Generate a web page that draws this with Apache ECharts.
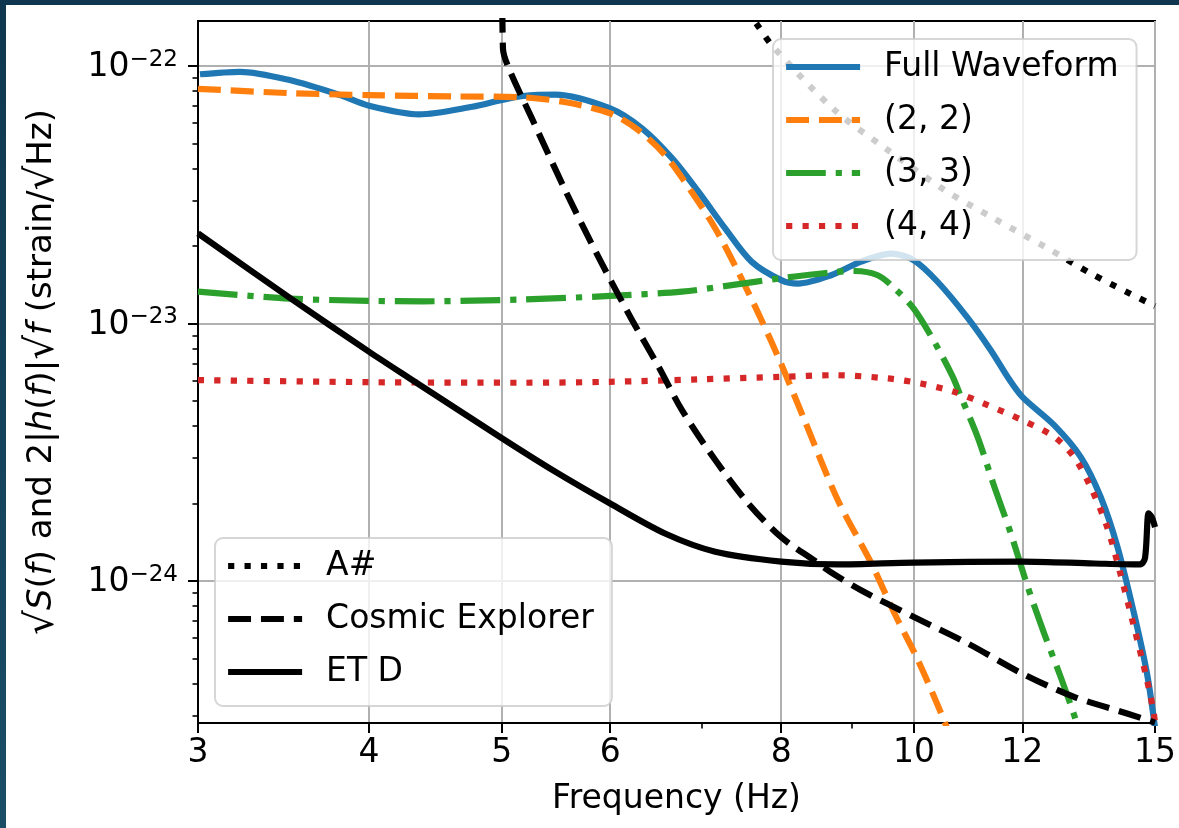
<!DOCTYPE html>
<html>
<head>
<meta charset="utf-8">
<script src="https://cdn.jsdelivr.net/npm/echarts@6/dist/echarts.min.js"></script>
<style>
html, body { margin: 0; padding: 0; width: 1179px; height: 828px; overflow: hidden;
  background: linear-gradient(to bottom, #0f3850, #1a4d66); }
#chart { position: absolute; left: 6px; top: 5px; width: 1173px; height: 823px; background: #ffffff; }
</style>
</head>
<body>
<div id="chart"></div>
<script>
// ---------------- data (frequency in Hz, amplitude in strain/sqrt(Hz)) ----------------
const fullFreq = [3.01, 3.22, 3.5, 3.81, 4.0, 4.35, 4.76, 5.0, 5.18, 5.47, 6.0, 6.33, 6.66, 6.96, 7.28, 7.61, 8.0, 8.23, 8.7, 9.15, 9.62, 10.0, 10.41, 10.95, 11.38, 11.71, 12.0, 12.66, 13.24, 13.69, 14.08, 14.48, 14.8, 15.0];
const fullAmp  = [9.29e-23, 9.50e-23, 8.82e-23, 7.71e-23, 7.01e-23, 6.49e-23, 6.95e-23, 7.38e-23, 7.65e-23, 7.75e-23, 6.85e-23, 5.73e-23, 4.38e-23, 3.25e-23, 2.34e-23, 1.74e-23, 1.475e-23, 1.43e-23, 1.54e-23, 1.74e-23, 1.87e-23, 1.76e-23, 1.45e-23, 1.05e-23, 7.88e-24, 6.19e-24, 5.19e-24, 4.03e-24, 3.03e-24, 2.12e-24, 1.36e-24, 7.48e-25, 4.37e-25, 2.7e-25];

const m22Freq = [3.0, 3.5, 4.0, 4.63, 5.18, 5.57, 6.0, 6.29, 6.58, 6.88, 7.16, 7.44, 7.74, 8.0, 8.32, 8.8, 9.31, 9.68, 10.07, 10.47, 10.62];
const m22Amp  = [8.16e-23, 7.85e-23, 7.71e-23, 7.62e-23, 7.56e-23, 7.23e-23, 6.55e-23, 5.64e-23, 4.51e-23, 3.25e-23, 2.34e-23, 1.59e-23, 1.03e-23, 6.96e-24, 4.21e-24, 2.06e-24, 1.17e-24, 7.48e-25, 4.92e-25, 3.06e-25, 2.52e-25];

const m33Freq = [3.0, 3.5, 4.0, 4.38, 5.18, 6.0, 6.77, 7.36, 8.0, 8.7, 9.05, 9.41, 9.68, 10.0, 10.35, 10.67, 10.82, 11.13, 11.45, 11.77, 12.11, 12.45, 12.8, 13.13, 13.21];
const m33Amp  = [1.33e-23, 1.25e-23, 1.225e-23, 1.22e-23, 1.24e-23, 1.28e-23, 1.33e-23, 1.41e-23, 1.50e-23, 1.58e-23, 1.60e-23, 1.54e-23, 1.37e-23, 1.14e-23, 8.49e-24, 6.25e-24, 5.22e-24, 3.63e-24, 2.32e-24, 1.53e-24, 9.49e-25, 6.25e-25, 4.24e-25, 2.88e-25, 2.52e-25];

const m44Freq = [3.0, 4.0, 5.18, 6.0, 6.96, 8.0, 8.75, 9.57, 10.12, 10.7, 11.32, 12.0, 12.66, 13.09, 13.46, 13.84, 14.15, 14.48, 14.8, 14.97, 15.0];
const m44Amp  = [6.03e-24, 5.92e-24, 5.89e-24, 5.94e-24, 6.07e-24, 6.21e-24, 6.30e-24, 6.12e-24, 5.85e-24, 5.43e-24, 4.82e-24, 4.21e-24, 3.63e-24, 3.03e-24, 2.32e-24, 1.62e-24, 1.07e-24, 6.63e-25, 4.12e-25, 3.06e-25, 2.8e-25];

const aSharpFreq = [7.55, 7.66, 7.89, 8.75, 9.57, 10.53, 11.38, 12.52, 13.54, 15.0];
const aSharpAmp  = [1.65e-22, 1.48e-22, 1.19e-22, 6.75e-23, 4.72e-23, 3.30e-23, 2.60e-23, 1.96e-23, 1.54e-23, 1.17e-23];

const ceFreq = [5.0, 5.01, 5.06, 5.26, 5.57, 5.89, 6.22, 6.51, 6.77, 7.16, 7.57, 8.0, 8.46, 8.7, 9.15, 10.0, 10.95, 12.0, 13.09, 14.31, 15.0];
const ceAmp  = [4.0e-22, 1.17e-22, 9.80e-23, 6.26e-23, 3.25e-23, 1.79e-23, 1.04e-23, 6.79e-24, 4.61e-24, 2.95e-24, 2.00e-24, 1.48e-24, 1.20e-24, 1.08e-24, 9.21e-25, 7.25e-25, 5.72e-25, 4.37e-25, 3.55e-25, 3.06e-25, 2.82e-25];

const etdFreq = [3.0, 3.5, 4.0, 4.28, 5.0, 5.47, 6.0, 6.58, 7.16, 8.0, 8.8, 10.0, 12.0, 13.54, 14.63, 14.75, 14.84, 14.92, 15.0];
const etdAmp  = [2.24e-23, 1.26e-23, 7.77e-24, 6.14e-24, 3.59e-24, 2.66e-24, 2.00e-24, 1.53e-24, 1.30e-24, 1.19e-24, 1.16e-24, 1.18e-24, 1.19e-24, 1.17e-24, 1.16e-24, 1.23e-24, 1.83e-24, 1.77e-24, 1.62e-24];

// axis ticks and ranges
const xMin = 3, xMax = 15;
const yMin = 2.81e-25, yMax = 1.496e-22;
const xTickLabels = [3, 4, 5, 6, 8, 10, 12, 15];
const xMinorTicks = [7, 9];
const yDecadeExponents = [-24, -23, -22];
const yMinorMantissas = [2, 3, 4, 5, 6, 7, 8, 9];

const waveformLegend = ['Full Waveform', '(2, 2)', '(3, 3)', '(4, 4)'];
const detectorLegend = ['A#', 'Cosmic Explorer', 'ET D'];

// ---------------- chart ----------------
const FONT = "'DejaVu Sans', sans-serif";
const LW = 6.2;
const DASHED = [3.7 * LW, 1.6 * LW];
const DASHDOT = [6.4 * LW, 1.6 * LW, 1 * LW, 1.6 * LW];
const DOTTED = [1 * LW, 1.65 * LW];

const lg = Math.log10;
const toPts = (fs, vs) => fs.map((f, i) => [lg(f), lg(vs[i])]);

const yMinorValues = [];
[-25, -24, -23, -22].forEach(e => yMinorMantissas.forEach(m => {
  const v = lg(m) + e;
  if (v > lg(yMin) && v < lg(yMax)) yMinorValues.push(v);
}));

function mkSeries(name, fs, vs, color, type) {
  return {
    type: 'line', name, data: toPts(fs, vs), symbol: 'none', smooth: 0.3,
    clip: true, silent: true, animation: false,
    lineStyle: { color, width: LW, type, join: 'round' },
    itemStyle: { color },
    emphasis: { disabled: true }
  };
}

const legendCommon = {
  orient: 'vertical', itemWidth: 74, itemHeight: 38, itemGap: 15,
  padding: [9, 18, 15, 10],
  backgroundColor: 'rgba(255,255,255,0.8)',
  borderColor: 'rgba(204,204,204,0.8)', borderWidth: 2, borderRadius: 8,
  selectedMode: false,
  textStyle: { fontSize: 33, fontFamily: FONT, color: '#000', lineHeight: 38, padding: [0, 0, 0, 19] },
  lineStyle: { width: LW },
  itemStyle: { color: 'rgba(0,0,0,0)', borderWidth: 0 }
};

const yName = '{r|√}{i|S}{n|(}{i|f}{n|) and 2|}{i|h}{n|(}{i|f}{n|)|}{r|√}{i|f}{n| (strain/}{r|√}{n|Hz)}';

const option = {
  animation: false,
  grid: { left: 192, top: 16, width: 960, height: 702, show: true, borderColor: '#000', borderWidth: 2, backgroundColor: 'transparent' },
  xAxis: [
    {
      type: 'value', min: lg(xMin), max: lg(xMax),
      name: 'Frequency (Hz)', nameLocation: 'middle', nameGap: 60,
      nameTextStyle: { fontSize: 33, fontFamily: FONT, color: '#000' },
      axisLine: { show: true, lineStyle: { color: '#000', width: 2 } },
      axisTick: { show: true, length: 10, customValues: xTickLabels.map(lg), lineStyle: { color: '#000', width: 2 } },
      axisLabel: { customValues: xTickLabels.map(lg), formatter: v => String(Math.round(Math.pow(10, v))),
        fontSize: 33, fontFamily: FONT, color: '#000', margin: 14 },
      splitLine: { show: true, lineStyle: { color: '#b0b0b0', width: 2 } }
    },
    {
      type: 'value', min: lg(xMin), max: lg(xMax), position: 'bottom',
      axisLine: { show: false }, axisLabel: { show: false }, splitLine: { show: false },
      axisTick: { show: true, length: 5.5, customValues: xMinorTicks.map(lg), lineStyle: { color: '#000', width: 1.6 } }
    }
  ],
  yAxis: [
    {
      type: 'value', min: lg(yMin), max: lg(yMax),
      name: yName, nameLocation: 'middle', nameGap: 136, nameRotate: 90,
      nameTruncate: { maxWidth: 2000 },
      nameTextStyle: { fontSize: 34, fontFamily: FONT, color: '#000',
        rich: {
          n: { fontSize: 34, fontFamily: FONT, color: '#000' },
          r: { fontSize: 39, fontFamily: FONT, color: '#000' },
          i: { fontSize: 34, fontFamily: FONT, fontStyle: 'italic', color: '#000' }
        } },
      axisLine: { show: true, lineStyle: { color: '#000', width: 2 } },
      axisTick: { show: true, length: 10, customValues: yDecadeExponents, lineStyle: { color: '#000', width: 2 } },
      axisLabel: { customValues: yDecadeExponents, margin: 20,
        formatter: v => '{b|10}{s|\u2212' + Math.round(-v) + '}',
        rich: {
          b: { fontSize: 33, fontFamily: FONT, color: '#000', lineHeight: 36, verticalAlign: 'bottom' },
          s: { fontSize: 23, fontFamily: FONT, color: '#000', lineHeight: 21, verticalAlign: 'top' }
        } },
      splitLine: { show: true, lineStyle: { color: '#b0b0b0', width: 2 } }
    },
    {
      type: 'value', min: lg(yMin), max: lg(yMax), position: 'left',
      axisLine: { show: false }, axisLabel: { show: false }, splitLine: { show: false },
      axisTick: { show: true, length: 5.5, customValues: yMinorValues, lineStyle: { color: '#000', width: 1.6 } }
    }
  ],
  legend: [
    Object.assign({}, legendCommon, { data: waveformLegend, left: 767, top: 34 }),
    Object.assign({}, legendCommon, { data: detectorLegend, left: 209, top: 533 })
  ],
  series: [
    mkSeries('Full Waveform', fullFreq, fullAmp, '#1f77b4', 'solid'),
    mkSeries('(2, 2)', m22Freq, m22Amp, '#ff7f0e', DASHED),
    mkSeries('(3, 3)', m33Freq, m33Amp, '#2ca02c', DASHDOT),
    mkSeries('(4, 4)', m44Freq, m44Amp, '#d62728', DOTTED),
    mkSeries('A#', aSharpFreq, aSharpAmp, '#000000', DOTTED),
    mkSeries('Cosmic Explorer', ceFreq, ceAmp, '#000000', DASHED),
    mkSeries('ET D', etdFreq, etdAmp, '#000000', 'solid')
  ]
};

const chart = echarts.init(document.getElementById('chart'), null, { renderer: 'canvas' });
chart.setOption(option);
</script>
</body>
</html>
